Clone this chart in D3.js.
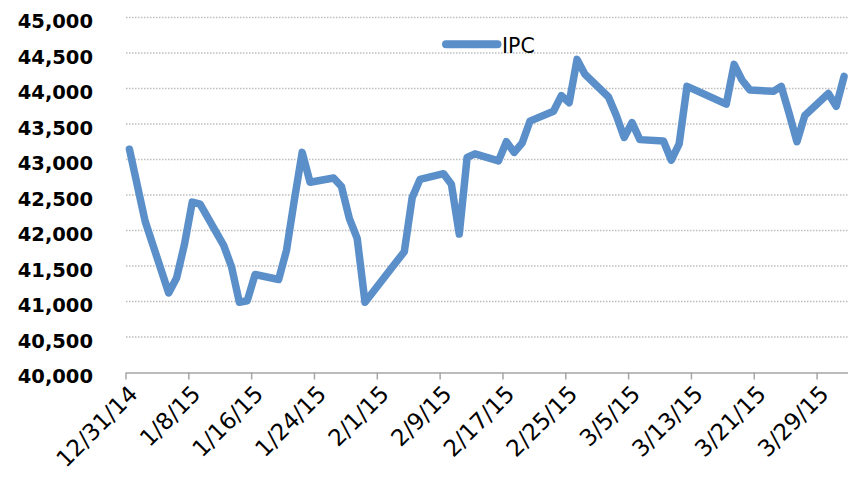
<!DOCTYPE html>
<html lang="en">
<head>
    <meta charset="utf-8">
    <title>IPC</title>
    <script src="https://cdn.jsdelivr.net/npm/d3@7"></script>
    <style>
        body { margin: 0; background: #fff; }
    </style>
</head>
<body>
    <svg width="848" height="479"></svg>
    <script>
        // closing values of the IPC
        var dates = ["2014-12-31", "2015-01-02", "2015-01-05", "2015-01-06", "2015-01-07", "2015-01-08", "2015-01-09",
            "2015-01-12", "2015-01-13", "2015-01-14", "2015-01-15", "2015-01-16",
            "2015-01-19", "2015-01-20", "2015-01-21", "2015-01-22", "2015-01-23",
            "2015-01-26", "2015-01-27", "2015-01-28", "2015-01-29", "2015-01-30",
            "2015-02-03", "2015-02-04", "2015-02-05", "2015-02-06",
            "2015-02-09", "2015-02-10", "2015-02-11", "2015-02-12", "2015-02-13",
            "2015-02-16", "2015-02-17", "2015-02-18", "2015-02-19", "2015-02-20",
            "2015-02-23", "2015-02-24", "2015-02-25", "2015-02-26", "2015-02-27",
            "2015-03-02", "2015-03-03", "2015-03-04", "2015-03-05", "2015-03-06",
            "2015-03-09", "2015-03-10", "2015-03-11", "2015-03-12", "2015-03-13",
            "2015-03-17", "2015-03-18", "2015-03-19", "2015-03-20",
            "2015-03-23", "2015-03-24", "2015-03-25", "2015-03-26", "2015-03-27",
            "2015-03-30", "2015-03-31", "2015-04-01"];
        var ipc = [43145, 42130, 41120, 41330, 41800, 42400, 42370,
            41790, 41490, 40990, 41010, 41380,
            41310, 41720, 42430, 43100, 42680,
            42740, 42620, 42170, 41890, 40990,
            41560, 41700, 42460, 42720,
            42800, 42650, 41950, 43030, 43080,
            42980, 43250, 43100, 43230, 43540,
            43680, 43900, 43800, 44410, 44200,
            43880, 43620, 43310, 43520, 43280,
            43260, 42990, 43220, 44030, 43980,
            43780, 44340, 44120, 43980,
            43960, 44030, 43650, 43250, 43620,
            43930, 43750, 44170];
        var tickDates = ["2014-12-31", "2015-01-08", "2015-01-16", "2015-01-24", "2015-02-01", "2015-02-09",
            "2015-02-17", "2015-02-25", "2015-03-05", "2015-03-13", "2015-03-21", "2015-03-29"];
        var yTicks = [40000, 40500, 41000, 41500, 42000, 42500, 43000, 43500, 44000, 44500, 45000];
        var seriesName = "IPC";

        var parse = d3.timeParse("%Y-%m-%d");
        var fmtTick = function (d) { return (d.getMonth() + 1) + "/" + d.getDate() + "/" + String(d.getFullYear()).slice(2); };
        var color = "#5b8fc9";

        var svg = d3.select("svg");
        var x = d3.scaleTime().domain([parse("2014-12-31"), parse("2015-04-02")]).range([125.5, 848]);
        var y = d3.scaleLinear().domain([40000, 45000]).range([372.5, 17.5]);
        var halfDay = 12 * 3600 * 1000;

        // dotted gridlines
        svg.append("g").selectAll("line")
            .data(yTicks.slice(1))
            .enter()
            .append("line")
            .attr("x1", 126).attr("x2", 848)
            .attr("y1", function (d) { return y(d); })
            .attr("y2", function (d) { return y(d); })
            .attr("stroke", "#bdbdbd")
            .attr("stroke-width", 1.5)
            .attr("stroke-dasharray", "1.5,1.5");

        // y labels
        svg.append("g").selectAll("text")
            .data(yTicks)
            .enter()
            .append("text")
            .attr("x", 93)
            .attr("y", function (d) { return y(d) + 10.5; })
            .attr("text-anchor", "end")
            .style("font-family", "DejaVu Sans")
            .style("font-weight", "bold")
            .style("font-size", "19.5px")
            .text(function (d) { return d3.format(",")(d); });

        // x axis
        var xAxis = d3.axisBottom(x)
            .tickValues(tickDates.map(parse))
            .tickSize(7)
            .tickSizeOuter(0)
            .tickFormat(fmtTick);
        var gx = svg.append("g").attr("transform", "translate(0,372.5)").call(xAxis);
        gx.select(".domain").attr("stroke", "#a6a6a6").attr("stroke-width", 1.5);
        gx.selectAll(".tick line").attr("stroke", "#a6a6a6").attr("stroke-width", 1.5);
        gx.selectAll(".tick text")
            .attr("x", 0).attr("y", 0).attr("dy", null)
            .attr("text-anchor", "end")
            .attr("transform", "translate(13,23) rotate(-45)")
            .attr("fill", "#000")
            .style("font-family", "DejaVu Sans")
            .style("font-size", "23px");

        // the series
        var line = d3.line()
            .x(function (d, i) { return x(new Date(parse(dates[i]).getTime() + halfDay)); })
            .y(function (d) { return y(d); });
        svg.append("path")
            .datum(ipc)
            .attr("d", line)
            .attr("fill", "none")
            .attr("stroke", color)
            .attr("stroke-width", 7.5)
            .attr("stroke-linejoin", "round")
            .attr("stroke-linecap", "round");

        // legend
        svg.append("line")
            .attr("x1", 446).attr("x2", 497.5)
            .attr("y1", 44.3).attr("y2", 44.3)
            .attr("stroke", color)
            .attr("stroke-width", 8)
            .attr("stroke-linecap", "round");
        svg.append("text")
            .attr("x", 502)
            .attr("y", 53.3)
            .style("font-family", "DejaVu Sans")
            .style("font-size", "20.5px")
            .text(seriesName);
    </script>
</body>
</html>
